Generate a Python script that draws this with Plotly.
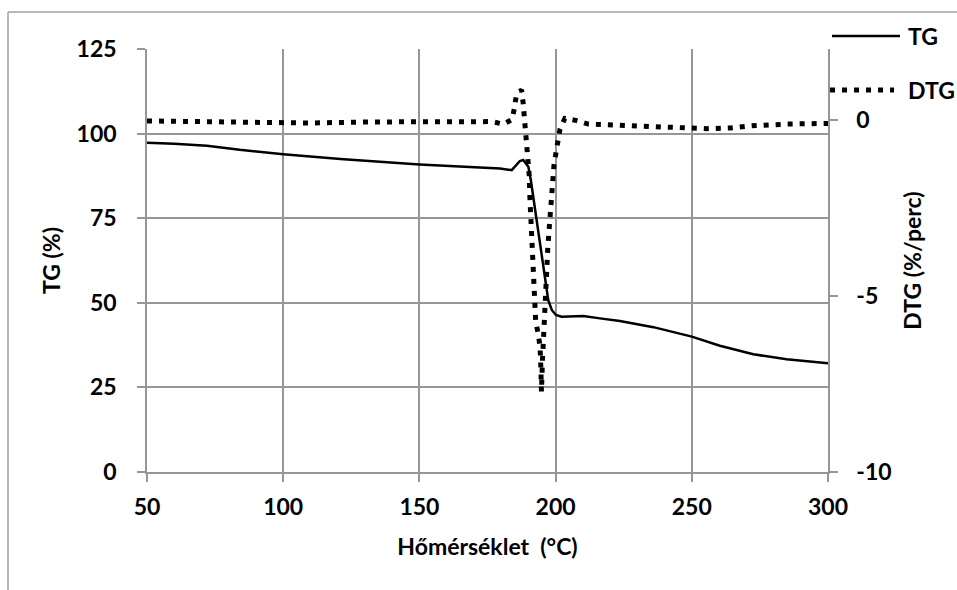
import plotly.graph_objects as go

# Thermogravimetric curve: temperature (°C) vs. remaining mass (%)
tg_temp = [50, 60, 72, 84, 100, 121, 150, 172, 179.6, 183.9, 185.7, 186.9, 188.1,
           190, 190.9, 191.8, 193.1, 194.3, 195.3, 196.3, 197.3, 198.6, 200.1,
           202.2, 205.3, 210.2, 216.3, 223.6, 235.9, 250, 260.3, 272.6, 284.8, 300]
tg_mass = [97.3, 97.0, 96.4, 95.2, 93.9, 92.5, 90.9, 90.0, 89.7, 89.2, 90.7, 91.9, 92.2,
           90.2, 86.3, 81.4, 74.5, 67.6, 61.7, 55.8, 50.8, 47.9, 46.4,
           45.9, 45.9, 46.1, 45.4, 44.6, 42.8, 40.0, 37.3, 34.8, 33.3, 32.1]

# Derivative curve: temperature (°C) vs. mass loss rate (%/perc)
dtg_temp = [50, 60, 75, 90, 97, 110, 130, 150, 165, 176.5, 180.8, 183.9, 184.9, 185.5,
            186.5, 187.5, 188.1, 188.5, 189, 189.4, 189.8, 190.3, 190.6, 191, 191.4,
            191.8, 192.2, 192.7, 193.6, 194.3, 194.6, 194.8, 195.2, 195.7, 196.1,
            196.7, 197.1, 197.7, 198.3, 198.8, 199.4, 200.1, 200.8, 201.6, 203.4,
            207.7, 212, 224.9, 238.3, 247, 255.5, 264, 272, 284.8, 297.6, 300]
dtg_rate = [-0.04, -0.05, -0.08, -0.10, -0.12, -0.10, -0.07, -0.06, -0.06, -0.06, -0.13,
            -0.01, 0.32, 0.65, 0.78, 0.84, 0.46, 0.13, -0.22, -0.58, -0.91, -1.57,
            -2.28, -3.0, -3.7, -4.36, -5.07, -5.74, -6.07, -6.45, -7.06, -7.72, -6.8,
            -5.8, -5.12, -4.36, -3.7, -3.04, -2.38, -1.62, -1.29, -0.96, -0.6, -0.28,
            0.03, -0.03, -0.13, -0.16, -0.2, -0.24, -0.26, -0.24, -0.18, -0.13, -0.11, -0.11]

x_ticks = [50, 100, 150, 200, 250, 300]
tg_ticks = [0, 25, 50, 75, 100, 125]
dtg_ticks = [-10, -5, 0]

FONT = "Lato"
FS = 23
GRID = "#969696"
DOT_DASH = "5px,7px"

fig = go.Figure()
fig.add_trace(go.Scatter(x=tg_temp, y=tg_mass, name="TG", mode="lines",
                         line=dict(color="black", width=2.5), yaxis="y"))
fig.add_trace(go.Scatter(x=dtg_temp, y=dtg_rate, name="DTG", mode="lines",
                         line=dict(color="black", width=5, dash=DOT_DASH), yaxis="y2"))

tickfont = dict(family=FONT, size=FS, color="black", weight="bold")
titlefont = dict(family=FONT, size=FS, color="black", weight="bold")

fig.update_layout(
    width=957, height=590,
    margin=dict(l=147, r=129, t=49, b=118, autoexpand=False),
    paper_bgcolor="white", plot_bgcolor="white",
    showlegend=False,
    xaxis=dict(range=[50, 300], tickvals=x_ticks, ticktext=[str(v) for v in x_ticks],
               showgrid=True, gridcolor=GRID, gridwidth=1.5,
               showline=True, linecolor=GRID, linewidth=1.5,
               ticks="outside", ticklen=8, tickcolor=GRID, tickwidth=1.5,
               tickfont=tickfont, ticklabelstandoff=6, zeroline=False,
               title=dict(text="Hőmérséklet  (°C)", font=titlefont, standoff=20)),
    yaxis=dict(range=[0, 125], tickvals=tg_ticks, ticktext=[str(v) for v in tg_ticks],
               showgrid=True, gridcolor=GRID, gridwidth=1.5,
               showline=True, linecolor=GRID, linewidth=1.5,
               ticks="outside", ticklen=8, tickcolor=GRID, tickwidth=1.5,
               tickfont=tickfont, ticklabelstandoff=16, zeroline=False,
               title=dict(text="TG (%)", font=titlefont, standoff=10)),
    yaxis2=dict(range=[-10, 2], tickvals=dtg_ticks, ticktext=[str(v) for v in dtg_ticks],
                overlaying="y", side="right", showgrid=False,
                showline=True, linecolor=GRID, linewidth=1.5,
                ticks="outside", ticklen=8, tickcolor=GRID, tickwidth=1.5,
                tickfont=tickfont, ticklabelstandoff=14, zeroline=False,
                title=dict(text="DTG (%/perc)", font=titlefont, standoff=14)),
)

# Legend drawn beside the plot area
fig.add_shape(type="line", xref="paper", yref="paper", x0=1.0059, x1=1.1057,
              y0=1.031, y1=1.031, line=dict(color="black", width=2.5))
fig.add_shape(type="line", xref="paper", yref="paper", x0=1.003, x1=1.097,
              y0=0.903, y1=0.903, line=dict(color="black", width=5, dash=DOT_DASH))
fig.add_annotation(text="TG", xref="paper", yref="paper", x=1.114, y=1.031,
                   xanchor="left", yanchor="middle", showarrow=False, font=titlefont)
fig.add_annotation(text="DTG", xref="paper", yref="paper", x=1.114, y=0.903,
                   xanchor="left", yanchor="middle", showarrow=False, font=titlefont)

# Chart-area frame (top and left edges)
fig.add_shape(type="line", xref="paper", yref="paper", x0=-0.2041, x1=-0.2041,
              y0=-0.31, y1=1.0875, line=dict(color="#a0a0a0", width=1.5))
fig.add_shape(type="line", xref="paper", yref="paper", x0=-0.2041, x1=1.2,
              y0=1.0875, y1=1.0875, line=dict(color="#a0a0a0", width=1.5))

fig.write_html("out.html")
